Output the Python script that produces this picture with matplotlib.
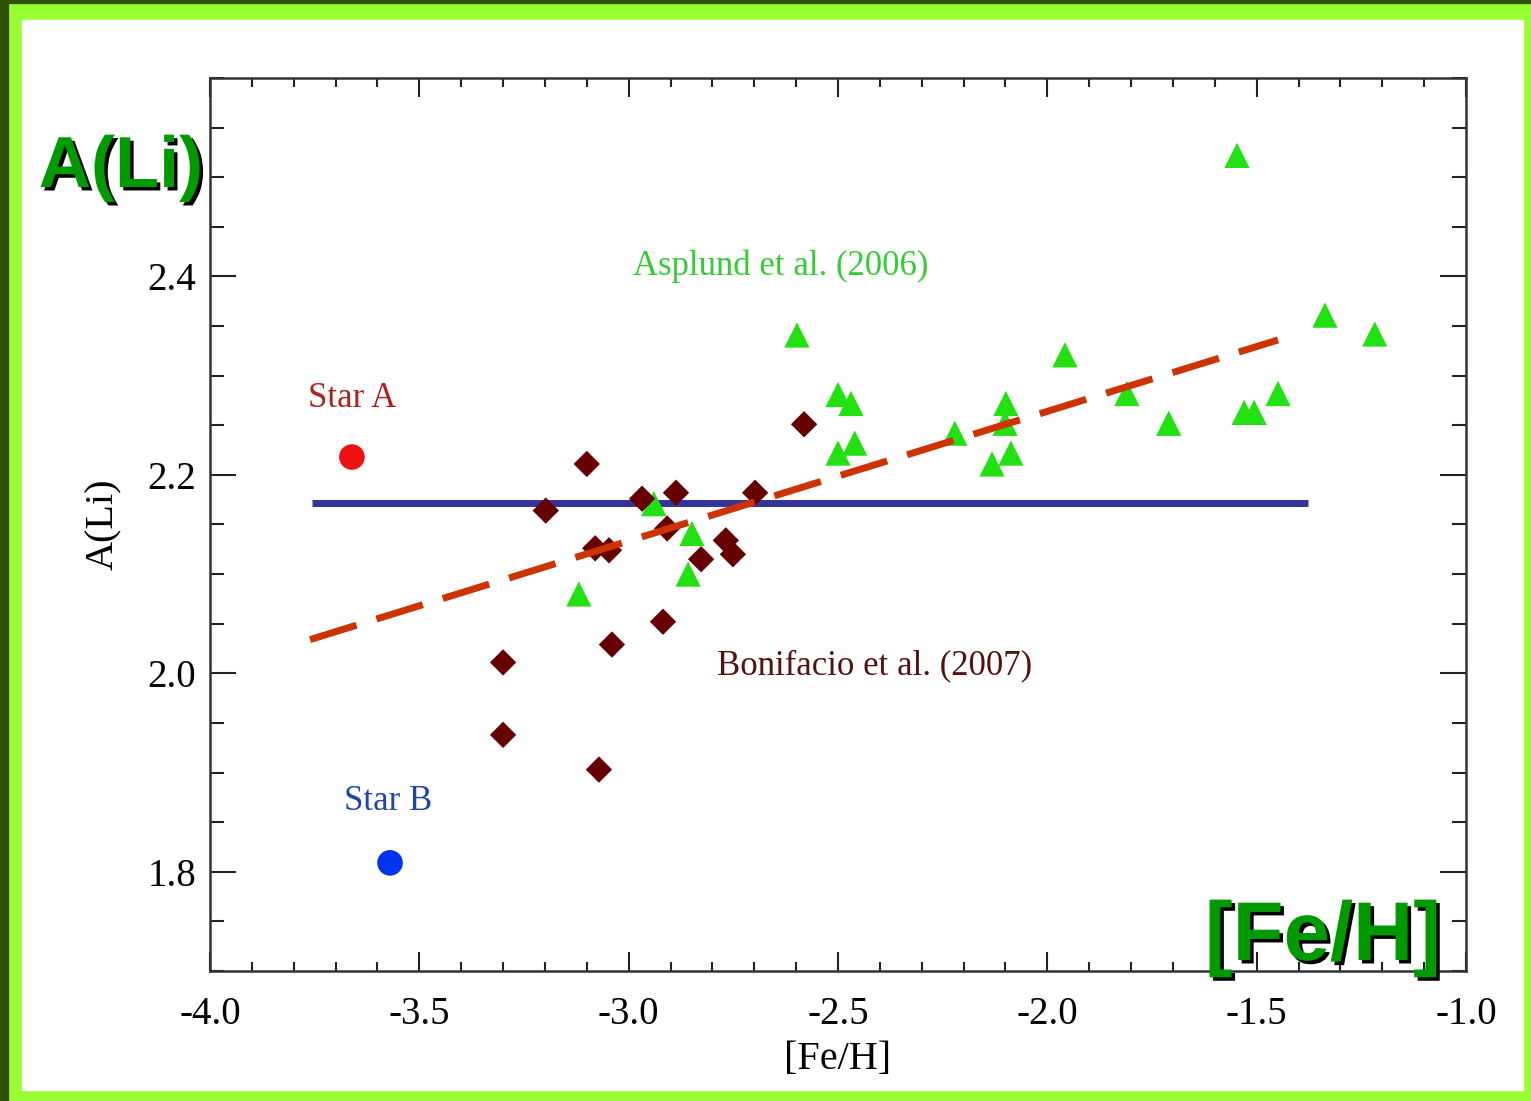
import numpy as np
import matplotlib
matplotlib.use('Agg')
import matplotlib.pyplot as plt
import matplotlib.patheffects as pe
from matplotlib.patches import Rectangle
from matplotlib.ticker import MultipleLocator

plt.rcParams['axes.unicode_minus'] = False

# Asplund et al. (2006) - triangles
asp_feh = [-1.547, -2.598, -1.337, -1.218, -1.958, -2.500, -2.469, -1.810, -1.449,
           -2.099, -1.530, -1.506, -1.710, -2.101, -2.221, -2.460, -2.500, -2.087,
           -2.132, -2.940, -2.849, -2.858, -3.119]
asp_li = [2.522, 2.341, 2.361, 2.342, 2.321, 2.281, 2.272, 2.282, 2.282,
          2.272, 2.263, 2.263, 2.252, 2.252, 2.242, 2.232, 2.222, 2.222,
          2.211, 2.171, 2.141, 2.100, 2.080]

# Bonifacio et al. (2007) - diamonds
bon_feh = [-2.581, -3.100, -3.198, -2.968, -2.887, -2.698, -2.908, -3.080, -3.047,
           -2.827, -2.768, -2.751, -2.918, -3.040, -3.300, -3.300, -3.071]
bon_li = [2.251, 2.211, 2.164, 2.176, 2.182, 2.182, 2.146, 2.126, 2.124,
          2.115, 2.134, 2.120, 2.052, 2.029, 2.011, 1.938, 1.903]

starA = (-3.661, 2.218)
starB = (-3.570, 1.809)

plateau_x = [-3.756, -1.378]
plateau_y = [2.172, 2.172]
trend_x = [-3.761, -1.449]
trend_y = [2.034, 2.336]

W, H = 1531, 1101
fig = plt.figure(figsize=(W/100, H/100), dpi=100)
fig.patch.set_facecolor('#99ff33')

# frame: dark strips + white panel
fig.patches.append(Rectangle((0, 0), 8/W, 1, transform=fig.transFigure, color='#2d5200', zorder=-10))
fig.patches.append(Rectangle((0, 1-3/H), 1, 3/H, transform=fig.transFigure, color='#2d5200', zorder=-10))
fig.patches.append(Rectangle((22/W, 1-1090/H), (1523-22)/W, (1090-20)/H,
                             transform=fig.transFigure, color='white', zorder=-10))

ax = fig.add_axes([210/W, 1-971/H, (1466-210)/W, (971-78)/H], zorder=1)
ax.set_facecolor('white')

serif = 'Liberation Serif'

ax.plot(plateau_x, plateau_y, color='#333399', lw=5, solid_capstyle='butt', zorder=2)
ax.scatter(asp_feh, asp_li, marker='^', s=330, color='#22e011', edgecolors='none', zorder=3)
ax.scatter(bon_feh, bon_li, marker='D', s=180, color='#660000', edgecolors='none', zorder=3)
ax.plot(trend_x, trend_y, color='#cc3300', lw=5, dashes=(7, 3), zorder=4)
ax.scatter([starA[0]], [starA[1]], s=340, color='#ee1111', edgecolors='none', zorder=3)
ax.scatter([starB[0]], [starB[1]], s=340, color='#0033ee', edgecolors='none', zorder=3)

ax.text(-2.636, 2.41, 'Asplund et al. (2006)', color='#33cc33', fontsize=25,
        family=serif, ha='center', va='center')
ax.text(-2.412, 2.008, 'Bonifacio et al. (2007)', color='#551111', fontsize=25,
        family=serif, ha='center', va='center')
ax.text(-3.661, 2.277, 'Star A', color='#aa2222', fontsize=25,
        family=serif, ha='center', va='center')
ax.text(-3.575, 1.871, 'Star B', color='#2244aa', fontsize=25,
        family=serif, ha='center', va='center')

ax.set_xlim(-4.0, -1.0)
ax.set_ylim(1.7, 2.6)
ax.xaxis.set_major_locator(MultipleLocator(0.5))
ax.xaxis.set_minor_locator(MultipleLocator(0.1))
ax.yaxis.set_minor_locator(MultipleLocator(0.05))
ax.set_yticks([1.8, 2.0, 2.2, 2.4])
ax.tick_params(which='both', direction='in', top=True, right=True, color='#222222', width=1.5)
ax.tick_params(axis='x', which='major', length=14, pad=18)
ax.tick_params(axis='x', which='minor', length=6.5)
ax.tick_params(axis='y', which='major', length=19, pad=10)
ax.tick_params(axis='y', which='minor', length=10)
for lab in ax.get_xticklabels() + ax.get_yticklabels():
    lab.set_family(serif)
    lab.set_fontsize(28)
for sp in ax.spines.values():
    sp.set_color('#333333')
    sp.set_linewidth(1.8)

ax.set_xlabel('[Fe/H]', family=serif, fontsize=29, labelpad=6)
ax.set_ylabel('A(Li)', family=serif, fontsize=29, labelpad=18)

shadow = [pe.withSimplePatchShadow(offset=(2.5, -2.5), shadow_rgbFace='black', alpha=1.0)]
fig.text(121/W, 1-168/H, 'A(Li)', color='#009900', fontsize=52, fontweight='bold',
         family='Liberation Sans', ha='center', va='center', path_effects=shadow, zorder=5)
fig.text(1323/W, 1-938/H, '[Fe/H]', color='#009900', fontsize=60, fontweight='bold',
         family='Liberation Sans', ha='center', va='center', path_effects=shadow, zorder=5)

fig.savefig('out.png', dpi=100, facecolor=fig.get_facecolor())
